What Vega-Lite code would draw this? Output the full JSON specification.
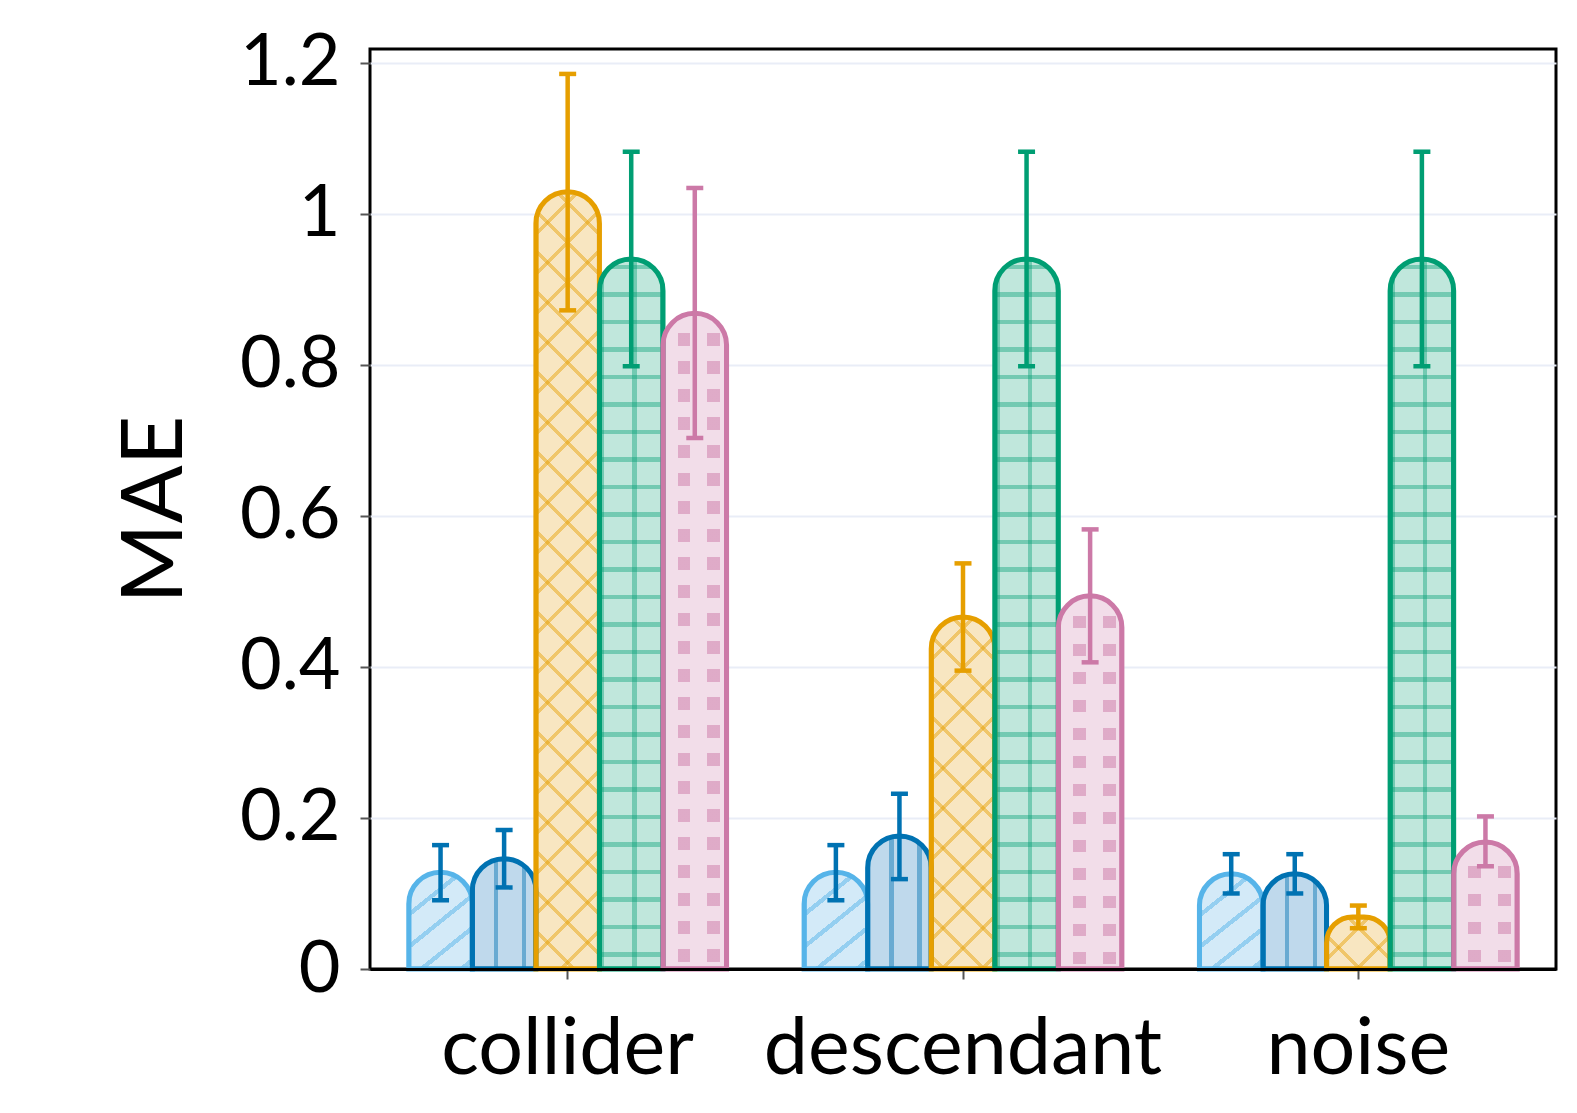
{
  "$schema": "https://vega.github.io/schema/vega-lite/v6.json",
  "autosize": {"type": "none"},
  "padding": {"left": 370, "top": 49, "right": 21, "bottom": 144},
  "width": 1186,
  "height": 920,
  "background": "white",
  "config": {
    "view": {"stroke": "#000000", "strokeWidth": 3},
    "font": "Lato",
    "axis": {"labelFont": "Lato", "titleFont": "Lato", "labelColor": "#000000", "titleColor": "#000000"}
  },
  "data": {
    "values": [
      {"group": "collider", "method": "m1", "mean": 0.128, "lo": 0.091, "hi": 0.164},
      {"group": "collider", "method": "m2", "mean": 0.146, "lo": 0.108, "hi": 0.184},
      {"group": "collider", "method": "m3", "mean": 1.029, "lo": 0.872, "hi": 1.185},
      {"group": "collider", "method": "m4", "mean": 0.940, "lo": 0.798, "hi": 1.082},
      {"group": "collider", "method": "m5", "mean": 0.868, "lo": 0.703, "hi": 1.034},
      {"group": "descendant", "method": "m1", "mean": 0.128, "lo": 0.091, "hi": 0.164},
      {"group": "descendant", "method": "m2", "mean": 0.176, "lo": 0.119, "hi": 0.232},
      {"group": "descendant", "method": "m3", "mean": 0.466, "lo": 0.395, "hi": 0.537},
      {"group": "descendant", "method": "m4", "mean": 0.940, "lo": 0.798, "hi": 1.082},
      {"group": "descendant", "method": "m5", "mean": 0.494, "lo": 0.406, "hi": 0.582},
      {"group": "noise", "method": "m1", "mean": 0.126, "lo": 0.100, "hi": 0.152},
      {"group": "noise", "method": "m2", "mean": 0.126, "lo": 0.100, "hi": 0.152},
      {"group": "noise", "method": "m3", "mean": 0.069, "lo": 0.054, "hi": 0.084},
      {"group": "noise", "method": "m4", "mean": 0.940, "lo": 0.798, "hi": 1.082},
      {"group": "noise", "method": "m5", "mean": 0.168, "lo": 0.136, "hi": 0.202}
    ]
  },
  "encoding": {
    "x": {
      "field": "group", "type": "nominal", "sort": ["collider", "descendant", "noise"],
      "scale": {"domain": ["collider", "descendant", "noise"], "paddingInner": 0, "paddingOuter": 0},
      "axis": {
        "title": null, "labelAngle": 0, "labelFontSize": 79, "labelPadding": 32, "labelLimit": 0,
        "domain": true, "domainColor": "#000000", "domainWidth": 3, "zindex": 1,
        "ticks": true, "tickSize": 10, "tickColor": "#555555", "tickWidth": 2, "grid": false
      }
    },
    "xOffset": {
      "field": "method", "type": "nominal", "sort": ["m1", "m2", "m3", "m4", "m5"],
      "scale": {"domain": ["m1", "m2", "m3", "m4", "m5"], "paddingInner": 0, "paddingOuter": 0.61}
    },
    "y": {
      "field": "mean", "type": "quantitative",
      "scale": {"domain": [0, 1.218], "nice": false, "zero": true},
      "axis": {
        "title": "MAE", "titleFontSize": 86, "titleFontWeight": "normal", "titlePadding": 40,
        "values": [0, 0.2, 0.4, 0.6, 0.8, 1, 1.2], "format": "~g",
        "labelFontSize": 72, "labelPadding": 20,
        "domain": false, "tickSize": 10, "tickColor": "#555555", "tickWidth": 2,
        "grid": true, "gridWidth": 2,
        "gridColor": {"condition": {"test": "datum.value === 0", "value": "rgba(0,0,0,0)"}, "value": "#e9edf7"}
      }
    }
  },
  "layer": [
    {
      "mark": {"type": "bar", "strokeWidth": 0, "cornerRadiusTopLeft": 31.7, "cornerRadiusTopRight": 31.7},
      "encoding": {
        "fill": {
          "field": "method", "type": "nominal", "legend": null,
          "scale": {"domain": ["m1", "m2", "m3", "m4", "m5"], "range": ["#d3eaf8", "#bfd9ec", "#f8e6c1", "#c0e7dc", "#f2dde9"]}
        }
      }
    },
    {
      "transform": [{"filter": "datum.method === 'm1'"}],
      "mark": {"type": "bar", "strokeWidth": 0, "cornerRadiusTopLeft": 31.7, "cornerRadiusTopRight": 31.7,
        "fill": {"gradient": "linear", "x1": 0, "y1": 0, "x2": 0.6327, "y2": 1.1945, "stops": [
          {"offset": 0.0494, "color": "rgba(0,0,0,0)"}, {"offset": 0.0494, "color": "rgba(86,180,233,0.5)"}, {"offset": 0.0868, "color": "rgba(86,180,233,0.5)"}, {"offset": 0.0868, "color": "rgba(0,0,0,0)"},
          {"offset": 0.2673, "color": "rgba(0,0,0,0)"}, {"offset": 0.2673, "color": "rgba(86,180,233,0.5)"}, {"offset": 0.3047, "color": "rgba(86,180,233,0.5)"}, {"offset": 0.3047, "color": "rgba(0,0,0,0)"},
          {"offset": 0.4852, "color": "rgba(0,0,0,0)"}, {"offset": 0.4852, "color": "rgba(86,180,233,0.5)"}, {"offset": 0.5226, "color": "rgba(86,180,233,0.5)"}, {"offset": 0.5226, "color": "rgba(0,0,0,0)"},
          {"offset": 0.7031, "color": "rgba(0,0,0,0)"}, {"offset": 0.7031, "color": "rgba(86,180,233,0.5)"}, {"offset": 0.7406, "color": "rgba(86,180,233,0.5)"}, {"offset": 0.7406, "color": "rgba(0,0,0,0)"},
          {"offset": 0.9210, "color": "rgba(0,0,0,0)"}, {"offset": 0.9210, "color": "rgba(86,180,233,0.5)"}, {"offset": 0.9585, "color": "rgba(86,180,233,0.5)"}, {"offset": 0.9585, "color": "rgba(0,0,0,0)"}
        ]}}
    },
    {
      "transform": [{"filter": "datum.method === 'm2'"}],
      "mark": {"type": "bar", "strokeWidth": 0, "cornerRadiusTopLeft": 31.7, "cornerRadiusTopRight": 31.7,
        "fill": {"gradient": "linear", "x1": 0, "y1": 0, "x2": 1, "y2": 0, "stops": [
          {"offset": 0.34, "color": "rgba(0,0,0,0)"}, {"offset": 0.34, "color": "rgba(0,114,178,0.45)"}, {"offset": 0.41, "color": "rgba(0,114,178,0.45)"}, {"offset": 0.41, "color": "rgba(0,0,0,0)"},
          {"offset": 0.78, "color": "rgba(0,0,0,0)"}, {"offset": 0.78, "color": "rgba(0,114,178,0.45)"}, {"offset": 0.85, "color": "rgba(0,114,178,0.45)"}, {"offset": 0.85, "color": "rgba(0,0,0,0)"}
        ]}}
    },
    {
      "transform": [{"filter": "datum.method === 'm3' && datum.group === 'collider'"}],
      "mark": {"type": "bar", "strokeWidth": 0, "cornerRadiusTopLeft": 31.7, "cornerRadiusTopRight": 31.7,
        "fill": {"gradient": "linear", "x1": 0, "y1": 0, "x2": 0.0879, "y2": 1.0746, "stops": [
          {"offset": 0, "color": "rgba(230,159,0,0.45)"}, {"offset": 0.0059, "color": "rgba(230,159,0,0.45)"}, {"offset": 0.0059, "color": "rgba(0,0,0,0)"},
          {"offset": 0.0476, "color": "rgba(0,0,0,0)"}, {"offset": 0.0476, "color": "rgba(230,159,0,0.45)"}, {"offset": 0.0535, "color": "rgba(230,159,0,0.45)"}, {"offset": 0.0535, "color": "rgba(0,0,0,0)"},
          {"offset": 0.0952, "color": "rgba(0,0,0,0)"}, {"offset": 0.0952, "color": "rgba(230,159,0,0.45)"}, {"offset": 0.1011, "color": "rgba(230,159,0,0.45)"}, {"offset": 0.1011, "color": "rgba(0,0,0,0)"},
          {"offset": 0.1427, "color": "rgba(0,0,0,0)"}, {"offset": 0.1427, "color": "rgba(230,159,0,0.45)"}, {"offset": 0.1487, "color": "rgba(230,159,0,0.45)"}, {"offset": 0.1487, "color": "rgba(0,0,0,0)"},
          {"offset": 0.1903, "color": "rgba(0,0,0,0)"}, {"offset": 0.1903, "color": "rgba(230,159,0,0.45)"}, {"offset": 0.1963, "color": "rgba(230,159,0,0.45)"}, {"offset": 0.1963, "color": "rgba(0,0,0,0)"},
          {"offset": 0.2379, "color": "rgba(0,0,0,0)"}, {"offset": 0.2379, "color": "rgba(230,159,0,0.45)"}, {"offset": 0.2438, "color": "rgba(230,159,0,0.45)"}, {"offset": 0.2438, "color": "rgba(0,0,0,0)"},
          {"offset": 0.2855, "color": "rgba(0,0,0,0)"}, {"offset": 0.2855, "color": "rgba(230,159,0,0.45)"}, {"offset": 0.2914, "color": "rgba(230,159,0,0.45)"}, {"offset": 0.2914, "color": "rgba(0,0,0,0)"},
          {"offset": 0.3330, "color": "rgba(0,0,0,0)"}, {"offset": 0.3330, "color": "rgba(230,159,0,0.45)"}, {"offset": 0.3390, "color": "rgba(230,159,0,0.45)"}, {"offset": 0.3390, "color": "rgba(0,0,0,0)"},
          {"offset": 0.3806, "color": "rgba(0,0,0,0)"}, {"offset": 0.3806, "color": "rgba(230,159,0,0.45)"}, {"offset": 0.3866, "color": "rgba(230,159,0,0.45)"}, {"offset": 0.3866, "color": "rgba(0,0,0,0)"},
          {"offset": 0.4282, "color": "rgba(0,0,0,0)"}, {"offset": 0.4282, "color": "rgba(230,159,0,0.45)"}, {"offset": 0.4341, "color": "rgba(230,159,0,0.45)"}, {"offset": 0.4341, "color": "rgba(0,0,0,0)"},
          {"offset": 0.4758, "color": "rgba(0,0,0,0)"}, {"offset": 0.4758, "color": "rgba(230,159,0,0.45)"}, {"offset": 0.4817, "color": "rgba(230,159,0,0.45)"}, {"offset": 0.4817, "color": "rgba(0,0,0,0)"},
          {"offset": 0.5233, "color": "rgba(0,0,0,0)"}, {"offset": 0.5233, "color": "rgba(230,159,0,0.45)"}, {"offset": 0.5293, "color": "rgba(230,159,0,0.45)"}, {"offset": 0.5293, "color": "rgba(0,0,0,0)"},
          {"offset": 0.5709, "color": "rgba(0,0,0,0)"}, {"offset": 0.5709, "color": "rgba(230,159,0,0.45)"}, {"offset": 0.5769, "color": "rgba(230,159,0,0.45)"}, {"offset": 0.5769, "color": "rgba(0,0,0,0)"},
          {"offset": 0.6185, "color": "rgba(0,0,0,0)"}, {"offset": 0.6185, "color": "rgba(230,159,0,0.45)"}, {"offset": 0.6244, "color": "rgba(230,159,0,0.45)"}, {"offset": 0.6244, "color": "rgba(0,0,0,0)"},
          {"offset": 0.6661, "color": "rgba(0,0,0,0)"}, {"offset": 0.6661, "color": "rgba(230,159,0,0.45)"}, {"offset": 0.6720, "color": "rgba(230,159,0,0.45)"}, {"offset": 0.6720, "color": "rgba(0,0,0,0)"},
          {"offset": 0.7136, "color": "rgba(0,0,0,0)"}, {"offset": 0.7136, "color": "rgba(230,159,0,0.45)"}, {"offset": 0.7196, "color": "rgba(230,159,0,0.45)"}, {"offset": 0.7196, "color": "rgba(0,0,0,0)"},
          {"offset": 0.7612, "color": "rgba(0,0,0,0)"}, {"offset": 0.7612, "color": "rgba(230,159,0,0.45)"}, {"offset": 0.7672, "color": "rgba(230,159,0,0.45)"}, {"offset": 0.7672, "color": "rgba(0,0,0,0)"},
          {"offset": 0.8088, "color": "rgba(0,0,0,0)"}, {"offset": 0.8088, "color": "rgba(230,159,0,0.45)"}, {"offset": 0.8147, "color": "rgba(230,159,0,0.45)"}, {"offset": 0.8147, "color": "rgba(0,0,0,0)"},
          {"offset": 0.8564, "color": "rgba(0,0,0,0)"}, {"offset": 0.8564, "color": "rgba(230,159,0,0.45)"}, {"offset": 0.8623, "color": "rgba(230,159,0,0.45)"}, {"offset": 0.8623, "color": "rgba(0,0,0,0)"},
          {"offset": 0.9039, "color": "rgba(0,0,0,0)"}, {"offset": 0.9039, "color": "rgba(230,159,0,0.45)"}, {"offset": 0.9099, "color": "rgba(230,159,0,0.45)"}, {"offset": 0.9099, "color": "rgba(0,0,0,0)"},
          {"offset": 0.9515, "color": "rgba(0,0,0,0)"}, {"offset": 0.9515, "color": "rgba(230,159,0,0.45)"}, {"offset": 0.9575, "color": "rgba(230,159,0,0.45)"}, {"offset": 0.9575, "color": "rgba(0,0,0,0)"}
        ]}}
    },
    {
      "transform": [{"filter": "datum.method === 'm3' && datum.group === 'collider'"}],
      "mark": {"type": "bar", "strokeWidth": 0, "cornerRadiusTopLeft": 31.7, "cornerRadiusTopRight": 31.7,
        "fill": {"gradient": "linear", "x1": 1, "y1": 0, "x2": 0.9121, "y2": 1.0746, "stops": [
          {"offset": 0, "color": "rgba(230,159,0,0.45)"}, {"offset": 0.0059, "color": "rgba(230,159,0,0.45)"}, {"offset": 0.0059, "color": "rgba(0,0,0,0)"},
          {"offset": 0.0476, "color": "rgba(0,0,0,0)"}, {"offset": 0.0476, "color": "rgba(230,159,0,0.45)"}, {"offset": 0.0535, "color": "rgba(230,159,0,0.45)"}, {"offset": 0.0535, "color": "rgba(0,0,0,0)"},
          {"offset": 0.0952, "color": "rgba(0,0,0,0)"}, {"offset": 0.0952, "color": "rgba(230,159,0,0.45)"}, {"offset": 0.1011, "color": "rgba(230,159,0,0.45)"}, {"offset": 0.1011, "color": "rgba(0,0,0,0)"},
          {"offset": 0.1427, "color": "rgba(0,0,0,0)"}, {"offset": 0.1427, "color": "rgba(230,159,0,0.45)"}, {"offset": 0.1487, "color": "rgba(230,159,0,0.45)"}, {"offset": 0.1487, "color": "rgba(0,0,0,0)"},
          {"offset": 0.1903, "color": "rgba(0,0,0,0)"}, {"offset": 0.1903, "color": "rgba(230,159,0,0.45)"}, {"offset": 0.1963, "color": "rgba(230,159,0,0.45)"}, {"offset": 0.1963, "color": "rgba(0,0,0,0)"},
          {"offset": 0.2379, "color": "rgba(0,0,0,0)"}, {"offset": 0.2379, "color": "rgba(230,159,0,0.45)"}, {"offset": 0.2438, "color": "rgba(230,159,0,0.45)"}, {"offset": 0.2438, "color": "rgba(0,0,0,0)"},
          {"offset": 0.2855, "color": "rgba(0,0,0,0)"}, {"offset": 0.2855, "color": "rgba(230,159,0,0.45)"}, {"offset": 0.2914, "color": "rgba(230,159,0,0.45)"}, {"offset": 0.2914, "color": "rgba(0,0,0,0)"},
          {"offset": 0.3330, "color": "rgba(0,0,0,0)"}, {"offset": 0.3330, "color": "rgba(230,159,0,0.45)"}, {"offset": 0.3390, "color": "rgba(230,159,0,0.45)"}, {"offset": 0.3390, "color": "rgba(0,0,0,0)"},
          {"offset": 0.3806, "color": "rgba(0,0,0,0)"}, {"offset": 0.3806, "color": "rgba(230,159,0,0.45)"}, {"offset": 0.3866, "color": "rgba(230,159,0,0.45)"}, {"offset": 0.3866, "color": "rgba(0,0,0,0)"},
          {"offset": 0.4282, "color": "rgba(0,0,0,0)"}, {"offset": 0.4282, "color": "rgba(230,159,0,0.45)"}, {"offset": 0.4341, "color": "rgba(230,159,0,0.45)"}, {"offset": 0.4341, "color": "rgba(0,0,0,0)"},
          {"offset": 0.4758, "color": "rgba(0,0,0,0)"}, {"offset": 0.4758, "color": "rgba(230,159,0,0.45)"}, {"offset": 0.4817, "color": "rgba(230,159,0,0.45)"}, {"offset": 0.4817, "color": "rgba(0,0,0,0)"},
          {"offset": 0.5233, "color": "rgba(0,0,0,0)"}, {"offset": 0.5233, "color": "rgba(230,159,0,0.45)"}, {"offset": 0.5293, "color": "rgba(230,159,0,0.45)"}, {"offset": 0.5293, "color": "rgba(0,0,0,0)"},
          {"offset": 0.5709, "color": "rgba(0,0,0,0)"}, {"offset": 0.5709, "color": "rgba(230,159,0,0.45)"}, {"offset": 0.5769, "color": "rgba(230,159,0,0.45)"}, {"offset": 0.5769, "color": "rgba(0,0,0,0)"},
          {"offset": 0.6185, "color": "rgba(0,0,0,0)"}, {"offset": 0.6185, "color": "rgba(230,159,0,0.45)"}, {"offset": 0.6244, "color": "rgba(230,159,0,0.45)"}, {"offset": 0.6244, "color": "rgba(0,0,0,0)"},
          {"offset": 0.6661, "color": "rgba(0,0,0,0)"}, {"offset": 0.6661, "color": "rgba(230,159,0,0.45)"}, {"offset": 0.6720, "color": "rgba(230,159,0,0.45)"}, {"offset": 0.6720, "color": "rgba(0,0,0,0)"},
          {"offset": 0.7136, "color": "rgba(0,0,0,0)"}, {"offset": 0.7136, "color": "rgba(230,159,0,0.45)"}, {"offset": 0.7196, "color": "rgba(230,159,0,0.45)"}, {"offset": 0.7196, "color": "rgba(0,0,0,0)"},
          {"offset": 0.7612, "color": "rgba(0,0,0,0)"}, {"offset": 0.7612, "color": "rgba(230,159,0,0.45)"}, {"offset": 0.7672, "color": "rgba(230,159,0,0.45)"}, {"offset": 0.7672, "color": "rgba(0,0,0,0)"},
          {"offset": 0.8088, "color": "rgba(0,0,0,0)"}, {"offset": 0.8088, "color": "rgba(230,159,0,0.45)"}, {"offset": 0.8147, "color": "rgba(230,159,0,0.45)"}, {"offset": 0.8147, "color": "rgba(0,0,0,0)"},
          {"offset": 0.8564, "color": "rgba(0,0,0,0)"}, {"offset": 0.8564, "color": "rgba(230,159,0,0.45)"}, {"offset": 0.8623, "color": "rgba(230,159,0,0.45)"}, {"offset": 0.8623, "color": "rgba(0,0,0,0)"},
          {"offset": 0.9039, "color": "rgba(0,0,0,0)"}, {"offset": 0.9039, "color": "rgba(230,159,0,0.45)"}, {"offset": 0.9099, "color": "rgba(230,159,0,0.45)"}, {"offset": 0.9099, "color": "rgba(0,0,0,0)"},
          {"offset": 0.9515, "color": "rgba(0,0,0,0)"}, {"offset": 0.9515, "color": "rgba(230,159,0,0.45)"}, {"offset": 0.9575, "color": "rgba(230,159,0,0.45)"}, {"offset": 0.9575, "color": "rgba(0,0,0,0)"}
        ]}}
    },
    {
      "transform": [{"filter": "datum.method === 'm3' && datum.group === 'descendant'"}],
      "mark": {"type": "bar", "strokeWidth": 0, "cornerRadiusTopLeft": 31.7, "cornerRadiusTopRight": 31.7,
        "fill": {"gradient": "linear", "x1": 0, "y1": 0, "x2": 0.2064, "y2": 1.1433, "stops": [
          {"offset": 0, "color": "rgba(230,159,0,0.45)"}, {"offset": 0.0120, "color": "rgba(230,159,0,0.45)"}, {"offset": 0.0120, "color": "rgba(0,0,0,0)"},
          {"offset": 0.0963, "color": "rgba(0,0,0,0)"}, {"offset": 0.0963, "color": "rgba(230,159,0,0.45)"}, {"offset": 0.1083, "color": "rgba(230,159,0,0.45)"}, {"offset": 0.1083, "color": "rgba(0,0,0,0)"},
          {"offset": 0.1925, "color": "rgba(0,0,0,0)"}, {"offset": 0.1925, "color": "rgba(230,159,0,0.45)"}, {"offset": 0.2045, "color": "rgba(230,159,0,0.45)"}, {"offset": 0.2045, "color": "rgba(0,0,0,0)"},
          {"offset": 0.2888, "color": "rgba(0,0,0,0)"}, {"offset": 0.2888, "color": "rgba(230,159,0,0.45)"}, {"offset": 0.3008, "color": "rgba(230,159,0,0.45)"}, {"offset": 0.3008, "color": "rgba(0,0,0,0)"},
          {"offset": 0.3850, "color": "rgba(0,0,0,0)"}, {"offset": 0.3850, "color": "rgba(230,159,0,0.45)"}, {"offset": 0.3971, "color": "rgba(230,159,0,0.45)"}, {"offset": 0.3971, "color": "rgba(0,0,0,0)"},
          {"offset": 0.4813, "color": "rgba(0,0,0,0)"}, {"offset": 0.4813, "color": "rgba(230,159,0,0.45)"}, {"offset": 0.4933, "color": "rgba(230,159,0,0.45)"}, {"offset": 0.4933, "color": "rgba(0,0,0,0)"},
          {"offset": 0.5775, "color": "rgba(0,0,0,0)"}, {"offset": 0.5775, "color": "rgba(230,159,0,0.45)"}, {"offset": 0.5896, "color": "rgba(230,159,0,0.45)"}, {"offset": 0.5896, "color": "rgba(0,0,0,0)"},
          {"offset": 0.6738, "color": "rgba(0,0,0,0)"}, {"offset": 0.6738, "color": "rgba(230,159,0,0.45)"}, {"offset": 0.6858, "color": "rgba(230,159,0,0.45)"}, {"offset": 0.6858, "color": "rgba(0,0,0,0)"},
          {"offset": 0.7700, "color": "rgba(0,0,0,0)"}, {"offset": 0.7700, "color": "rgba(230,159,0,0.45)"}, {"offset": 0.7821, "color": "rgba(230,159,0,0.45)"}, {"offset": 0.7821, "color": "rgba(0,0,0,0)"},
          {"offset": 0.8663, "color": "rgba(0,0,0,0)"}, {"offset": 0.8663, "color": "rgba(230,159,0,0.45)"}, {"offset": 0.8783, "color": "rgba(230,159,0,0.45)"}, {"offset": 0.8783, "color": "rgba(0,0,0,0)"},
          {"offset": 0.9626, "color": "rgba(0,0,0,0)"}, {"offset": 0.9626, "color": "rgba(230,159,0,0.45)"}, {"offset": 0.9746, "color": "rgba(230,159,0,0.45)"}, {"offset": 0.9746, "color": "rgba(0,0,0,0)"}
        ]}}
    },
    {
      "transform": [{"filter": "datum.method === 'm3' && datum.group === 'descendant'"}],
      "mark": {"type": "bar", "strokeWidth": 0, "cornerRadiusTopLeft": 31.7, "cornerRadiusTopRight": 31.7,
        "fill": {"gradient": "linear", "x1": 1, "y1": 0, "x2": 0.7936, "y2": 1.1433, "stops": [
          {"offset": 0, "color": "rgba(230,159,0,0.45)"}, {"offset": 0.0120, "color": "rgba(230,159,0,0.45)"}, {"offset": 0.0120, "color": "rgba(0,0,0,0)"},
          {"offset": 0.0963, "color": "rgba(0,0,0,0)"}, {"offset": 0.0963, "color": "rgba(230,159,0,0.45)"}, {"offset": 0.1083, "color": "rgba(230,159,0,0.45)"}, {"offset": 0.1083, "color": "rgba(0,0,0,0)"},
          {"offset": 0.1925, "color": "rgba(0,0,0,0)"}, {"offset": 0.1925, "color": "rgba(230,159,0,0.45)"}, {"offset": 0.2045, "color": "rgba(230,159,0,0.45)"}, {"offset": 0.2045, "color": "rgba(0,0,0,0)"},
          {"offset": 0.2888, "color": "rgba(0,0,0,0)"}, {"offset": 0.2888, "color": "rgba(230,159,0,0.45)"}, {"offset": 0.3008, "color": "rgba(230,159,0,0.45)"}, {"offset": 0.3008, "color": "rgba(0,0,0,0)"},
          {"offset": 0.3850, "color": "rgba(0,0,0,0)"}, {"offset": 0.3850, "color": "rgba(230,159,0,0.45)"}, {"offset": 0.3971, "color": "rgba(230,159,0,0.45)"}, {"offset": 0.3971, "color": "rgba(0,0,0,0)"},
          {"offset": 0.4813, "color": "rgba(0,0,0,0)"}, {"offset": 0.4813, "color": "rgba(230,159,0,0.45)"}, {"offset": 0.4933, "color": "rgba(230,159,0,0.45)"}, {"offset": 0.4933, "color": "rgba(0,0,0,0)"},
          {"offset": 0.5775, "color": "rgba(0,0,0,0)"}, {"offset": 0.5775, "color": "rgba(230,159,0,0.45)"}, {"offset": 0.5896, "color": "rgba(230,159,0,0.45)"}, {"offset": 0.5896, "color": "rgba(0,0,0,0)"},
          {"offset": 0.6738, "color": "rgba(0,0,0,0)"}, {"offset": 0.6738, "color": "rgba(230,159,0,0.45)"}, {"offset": 0.6858, "color": "rgba(230,159,0,0.45)"}, {"offset": 0.6858, "color": "rgba(0,0,0,0)"},
          {"offset": 0.7700, "color": "rgba(0,0,0,0)"}, {"offset": 0.7700, "color": "rgba(230,159,0,0.45)"}, {"offset": 0.7821, "color": "rgba(230,159,0,0.45)"}, {"offset": 0.7821, "color": "rgba(0,0,0,0)"},
          {"offset": 0.8663, "color": "rgba(0,0,0,0)"}, {"offset": 0.8663, "color": "rgba(230,159,0,0.45)"}, {"offset": 0.8783, "color": "rgba(230,159,0,0.45)"}, {"offset": 0.8783, "color": "rgba(0,0,0,0)"},
          {"offset": 0.9626, "color": "rgba(0,0,0,0)"}, {"offset": 0.9626, "color": "rgba(230,159,0,0.45)"}, {"offset": 0.9746, "color": "rgba(230,159,0,0.45)"}, {"offset": 0.9746, "color": "rgba(0,0,0,0)"}
        ]}}
    },
    {
      "transform": [{"filter": "datum.method === 'm3' && datum.group === 'noise'"}],
      "mark": {"type": "bar", "strokeWidth": 0, "cornerRadiusTopLeft": 31.7, "cornerRadiusTopRight": 31.7,
        "fill": {"gradient": "linear", "x1": 0, "y1": 0, "x2": 1.0882, "y2": 0.8924, "stops": [
          {"offset": 0, "color": "rgba(230,159,0,0.45)"}, {"offset": 0.0432, "color": "rgba(230,159,0,0.45)"}, {"offset": 0.0432, "color": "rgba(0,0,0,0)"},
          {"offset": 0.3458, "color": "rgba(0,0,0,0)"}, {"offset": 0.3458, "color": "rgba(230,159,0,0.45)"}, {"offset": 0.3890, "color": "rgba(230,159,0,0.45)"}, {"offset": 0.3890, "color": "rgba(0,0,0,0)"},
          {"offset": 0.6916, "color": "rgba(0,0,0,0)"}, {"offset": 0.6916, "color": "rgba(230,159,0,0.45)"}, {"offset": 0.7348, "color": "rgba(230,159,0,0.45)"}, {"offset": 0.7348, "color": "rgba(0,0,0,0)"}
        ]}}
    },
    {
      "transform": [{"filter": "datum.method === 'm3' && datum.group === 'noise'"}],
      "mark": {"type": "bar", "strokeWidth": 0, "cornerRadiusTopLeft": 31.7, "cornerRadiusTopRight": 31.7,
        "fill": {"gradient": "linear", "x1": 1, "y1": 0, "x2": -0.0882, "y2": 0.8924, "stops": [
          {"offset": 0, "color": "rgba(230,159,0,0.45)"}, {"offset": 0.0432, "color": "rgba(230,159,0,0.45)"}, {"offset": 0.0432, "color": "rgba(0,0,0,0)"},
          {"offset": 0.3458, "color": "rgba(0,0,0,0)"}, {"offset": 0.3458, "color": "rgba(230,159,0,0.45)"}, {"offset": 0.3890, "color": "rgba(230,159,0,0.45)"}, {"offset": 0.3890, "color": "rgba(0,0,0,0)"},
          {"offset": 0.6916, "color": "rgba(0,0,0,0)"}, {"offset": 0.6916, "color": "rgba(230,159,0,0.45)"}, {"offset": 0.7348, "color": "rgba(230,159,0,0.45)"}, {"offset": 0.7348, "color": "rgba(0,0,0,0)"}
        ]}}
    },
    {
      "transform": [{"filter": "datum.method === 'm4'"}],
      "mark": {"type": "bar", "strokeWidth": 0, "cornerRadiusTopLeft": 31.7, "cornerRadiusTopRight": 31.7,
        "fill": {"gradient": "linear", "x1": 0, "y1": 0, "x2": 1, "y2": 0, "stops": [
          {"offset": 0.005, "color": "rgba(0,0,0,0)"}, {"offset": 0.005, "color": "rgba(0,158,115,0.4)"}, {"offset": 0.075, "color": "rgba(0,158,115,0.4)"}, {"offset": 0.075, "color": "rgba(0,0,0,0)"},
          {"offset": 0.515, "color": "rgba(0,0,0,0)"}, {"offset": 0.515, "color": "rgba(0,158,115,0.4)"}, {"offset": 0.585, "color": "rgba(0,158,115,0.4)"}, {"offset": 0.585, "color": "rgba(0,0,0,0)"}
        ]}}
    },
    {
      "transform": [{"filter": "datum.method === 'm4'"}],
      "mark": {"type": "bar", "strokeWidth": 0, "cornerRadiusTopLeft": 31.7, "cornerRadiusTopRight": 31.7,
        "fill": {"gradient": "linear", "x1": 0, "y1": 0, "x2": 0, "y2": 1, "stops": [
          {"offset": 0.0078, "color": "rgba(0,0,0,0)"}, {"offset": 0.0078, "color": "rgba(0,158,115,0.4)"}, {"offset": 0.0142, "color": "rgba(0,158,115,0.4)"}, {"offset": 0.0142, "color": "rgba(0,0,0,0)"},
          {"offset": 0.0465, "color": "rgba(0,0,0,0)"}, {"offset": 0.0465, "color": "rgba(0,158,115,0.4)"}, {"offset": 0.0529, "color": "rgba(0,158,115,0.4)"}, {"offset": 0.0529, "color": "rgba(0,0,0,0)"},
          {"offset": 0.0853, "color": "rgba(0,0,0,0)"}, {"offset": 0.0853, "color": "rgba(0,158,115,0.4)"}, {"offset": 0.0916, "color": "rgba(0,158,115,0.4)"}, {"offset": 0.0916, "color": "rgba(0,0,0,0)"},
          {"offset": 0.1240, "color": "rgba(0,0,0,0)"}, {"offset": 0.1240, "color": "rgba(0,158,115,0.4)"}, {"offset": 0.1304, "color": "rgba(0,158,115,0.4)"}, {"offset": 0.1304, "color": "rgba(0,0,0,0)"},
          {"offset": 0.1627, "color": "rgba(0,0,0,0)"}, {"offset": 0.1627, "color": "rgba(0,158,115,0.4)"}, {"offset": 0.1691, "color": "rgba(0,158,115,0.4)"}, {"offset": 0.1691, "color": "rgba(0,0,0,0)"},
          {"offset": 0.2015, "color": "rgba(0,0,0,0)"}, {"offset": 0.2015, "color": "rgba(0,158,115,0.4)"}, {"offset": 0.2078, "color": "rgba(0,158,115,0.4)"}, {"offset": 0.2078, "color": "rgba(0,0,0,0)"},
          {"offset": 0.2402, "color": "rgba(0,0,0,0)"}, {"offset": 0.2402, "color": "rgba(0,158,115,0.4)"}, {"offset": 0.2465, "color": "rgba(0,158,115,0.4)"}, {"offset": 0.2465, "color": "rgba(0,0,0,0)"},
          {"offset": 0.2789, "color": "rgba(0,0,0,0)"}, {"offset": 0.2789, "color": "rgba(0,158,115,0.4)"}, {"offset": 0.2853, "color": "rgba(0,158,115,0.4)"}, {"offset": 0.2853, "color": "rgba(0,0,0,0)"},
          {"offset": 0.3177, "color": "rgba(0,0,0,0)"}, {"offset": 0.3177, "color": "rgba(0,158,115,0.4)"}, {"offset": 0.3240, "color": "rgba(0,158,115,0.4)"}, {"offset": 0.3240, "color": "rgba(0,0,0,0)"},
          {"offset": 0.3564, "color": "rgba(0,0,0,0)"}, {"offset": 0.3564, "color": "rgba(0,158,115,0.4)"}, {"offset": 0.3627, "color": "rgba(0,158,115,0.4)"}, {"offset": 0.3627, "color": "rgba(0,0,0,0)"},
          {"offset": 0.3951, "color": "rgba(0,0,0,0)"}, {"offset": 0.3951, "color": "rgba(0,158,115,0.4)"}, {"offset": 0.4015, "color": "rgba(0,158,115,0.4)"}, {"offset": 0.4015, "color": "rgba(0,0,0,0)"},
          {"offset": 0.4339, "color": "rgba(0,0,0,0)"}, {"offset": 0.4339, "color": "rgba(0,158,115,0.4)"}, {"offset": 0.4402, "color": "rgba(0,158,115,0.4)"}, {"offset": 0.4402, "color": "rgba(0,0,0,0)"},
          {"offset": 0.4726, "color": "rgba(0,0,0,0)"}, {"offset": 0.4726, "color": "rgba(0,158,115,0.4)"}, {"offset": 0.4789, "color": "rgba(0,158,115,0.4)"}, {"offset": 0.4789, "color": "rgba(0,0,0,0)"},
          {"offset": 0.5113, "color": "rgba(0,0,0,0)"}, {"offset": 0.5113, "color": "rgba(0,158,115,0.4)"}, {"offset": 0.5177, "color": "rgba(0,158,115,0.4)"}, {"offset": 0.5177, "color": "rgba(0,0,0,0)"},
          {"offset": 0.5501, "color": "rgba(0,0,0,0)"}, {"offset": 0.5501, "color": "rgba(0,158,115,0.4)"}, {"offset": 0.5564, "color": "rgba(0,158,115,0.4)"}, {"offset": 0.5564, "color": "rgba(0,0,0,0)"},
          {"offset": 0.5888, "color": "rgba(0,0,0,0)"}, {"offset": 0.5888, "color": "rgba(0,158,115,0.4)"}, {"offset": 0.5951, "color": "rgba(0,158,115,0.4)"}, {"offset": 0.5951, "color": "rgba(0,0,0,0)"},
          {"offset": 0.6275, "color": "rgba(0,0,0,0)"}, {"offset": 0.6275, "color": "rgba(0,158,115,0.4)"}, {"offset": 0.6339, "color": "rgba(0,158,115,0.4)"}, {"offset": 0.6339, "color": "rgba(0,0,0,0)"},
          {"offset": 0.6663, "color": "rgba(0,0,0,0)"}, {"offset": 0.6663, "color": "rgba(0,158,115,0.4)"}, {"offset": 0.6726, "color": "rgba(0,158,115,0.4)"}, {"offset": 0.6726, "color": "rgba(0,0,0,0)"},
          {"offset": 0.7050, "color": "rgba(0,0,0,0)"}, {"offset": 0.7050, "color": "rgba(0,158,115,0.4)"}, {"offset": 0.7113, "color": "rgba(0,158,115,0.4)"}, {"offset": 0.7113, "color": "rgba(0,0,0,0)"},
          {"offset": 0.7437, "color": "rgba(0,0,0,0)"}, {"offset": 0.7437, "color": "rgba(0,158,115,0.4)"}, {"offset": 0.7501, "color": "rgba(0,158,115,0.4)"}, {"offset": 0.7501, "color": "rgba(0,0,0,0)"},
          {"offset": 0.7825, "color": "rgba(0,0,0,0)"}, {"offset": 0.7825, "color": "rgba(0,158,115,0.4)"}, {"offset": 0.7888, "color": "rgba(0,158,115,0.4)"}, {"offset": 0.7888, "color": "rgba(0,0,0,0)"},
          {"offset": 0.8212, "color": "rgba(0,0,0,0)"}, {"offset": 0.8212, "color": "rgba(0,158,115,0.4)"}, {"offset": 0.8275, "color": "rgba(0,158,115,0.4)"}, {"offset": 0.8275, "color": "rgba(0,0,0,0)"},
          {"offset": 0.8599, "color": "rgba(0,0,0,0)"}, {"offset": 0.8599, "color": "rgba(0,158,115,0.4)"}, {"offset": 0.8663, "color": "rgba(0,158,115,0.4)"}, {"offset": 0.8663, "color": "rgba(0,0,0,0)"},
          {"offset": 0.8987, "color": "rgba(0,0,0,0)"}, {"offset": 0.8987, "color": "rgba(0,158,115,0.4)"}, {"offset": 0.9050, "color": "rgba(0,158,115,0.4)"}, {"offset": 0.9050, "color": "rgba(0,0,0,0)"},
          {"offset": 0.9374, "color": "rgba(0,0,0,0)"}, {"offset": 0.9374, "color": "rgba(0,158,115,0.4)"}, {"offset": 0.9437, "color": "rgba(0,158,115,0.4)"}, {"offset": 0.9437, "color": "rgba(0,0,0,0)"},
          {"offset": 0.9761, "color": "rgba(0,0,0,0)"}, {"offset": 0.9761, "color": "rgba(0,158,115,0.4)"}, {"offset": 0.9825, "color": "rgba(0,158,115,0.4)"}, {"offset": 0.9825, "color": "rgba(0,0,0,0)"}
        ]}}
    },
    {
      "transform": [{"filter": "datum.method === 'm5'"}],
      "mark": {"type": "bar", "strokeWidth": 0, "cornerRadiusTopLeft": 31.7, "cornerRadiusTopRight": 31.7,
        "fill": {"gradient": "linear", "x1": 0, "y1": 0, "x2": 1, "y2": 0, "stops": [
          {"offset": 0.23, "color": "rgba(0,0,0,0)"}, {"offset": 0.23, "color": "rgba(204,121,167,0.5)"}, {"offset": 0.43, "color": "rgba(204,121,167,0.5)"}, {"offset": 0.43, "color": "rgba(0,0,0,0)"},
          {"offset": 0.70, "color": "rgba(0,0,0,0)"}, {"offset": 0.70, "color": "rgba(204,121,167,0.5)"}, {"offset": 0.90, "color": "rgba(204,121,167,0.5)"}, {"offset": 0.90, "color": "rgba(0,0,0,0)"}
        ]}}
    },
    {
      "transform": [{"filter": "datum.method === 'm5' && datum.group === 'collider'"}],
      "mark": {"type": "bar", "strokeWidth": 0, "cornerRadiusTopLeft": 31.7, "cornerRadiusTopRight": 31.7,
        "fill": {"gradient": "linear", "x1": 0, "y1": 0, "x2": 0, "y2": 1, "stops": [
          {"offset": 0, "color": "#f2dde9"},
          {"offset": 0.0301, "color": "#f2dde9"}, {"offset": 0.0301, "color": "rgba(242,221,233,0)"}, {"offset": 0.0492, "color": "rgba(242,221,233,0)"}, {"offset": 0.0492, "color": "#f2dde9"},
          {"offset": 0.0728, "color": "#f2dde9"}, {"offset": 0.0728, "color": "rgba(242,221,233,0)"}, {"offset": 0.0919, "color": "rgba(242,221,233,0)"}, {"offset": 0.0919, "color": "#f2dde9"},
          {"offset": 0.1155, "color": "#f2dde9"}, {"offset": 0.1155, "color": "rgba(242,221,233,0)"}, {"offset": 0.1346, "color": "rgba(242,221,233,0)"}, {"offset": 0.1346, "color": "#f2dde9"},
          {"offset": 0.1583, "color": "#f2dde9"}, {"offset": 0.1583, "color": "rgba(242,221,233,0)"}, {"offset": 0.1773, "color": "rgba(242,221,233,0)"}, {"offset": 0.1773, "color": "#f2dde9"},
          {"offset": 0.2010, "color": "#f2dde9"}, {"offset": 0.2010, "color": "rgba(242,221,233,0)"}, {"offset": 0.2200, "color": "rgba(242,221,233,0)"}, {"offset": 0.2200, "color": "#f2dde9"},
          {"offset": 0.2437, "color": "#f2dde9"}, {"offset": 0.2437, "color": "rgba(242,221,233,0)"}, {"offset": 0.2627, "color": "rgba(242,221,233,0)"}, {"offset": 0.2627, "color": "#f2dde9"},
          {"offset": 0.2864, "color": "#f2dde9"}, {"offset": 0.2864, "color": "rgba(242,221,233,0)"}, {"offset": 0.3054, "color": "rgba(242,221,233,0)"}, {"offset": 0.3054, "color": "#f2dde9"},
          {"offset": 0.3291, "color": "#f2dde9"}, {"offset": 0.3291, "color": "rgba(242,221,233,0)"}, {"offset": 0.3482, "color": "rgba(242,221,233,0)"}, {"offset": 0.3482, "color": "#f2dde9"},
          {"offset": 0.3718, "color": "#f2dde9"}, {"offset": 0.3718, "color": "rgba(242,221,233,0)"}, {"offset": 0.3909, "color": "rgba(242,221,233,0)"}, {"offset": 0.3909, "color": "#f2dde9"},
          {"offset": 0.4145, "color": "#f2dde9"}, {"offset": 0.4145, "color": "rgba(242,221,233,0)"}, {"offset": 0.4336, "color": "rgba(242,221,233,0)"}, {"offset": 0.4336, "color": "#f2dde9"},
          {"offset": 0.4572, "color": "#f2dde9"}, {"offset": 0.4572, "color": "rgba(242,221,233,0)"}, {"offset": 0.4763, "color": "rgba(242,221,233,0)"}, {"offset": 0.4763, "color": "#f2dde9"},
          {"offset": 0.4999, "color": "#f2dde9"}, {"offset": 0.4999, "color": "rgba(242,221,233,0)"}, {"offset": 0.5190, "color": "rgba(242,221,233,0)"}, {"offset": 0.5190, "color": "#f2dde9"},
          {"offset": 0.5426, "color": "#f2dde9"}, {"offset": 0.5426, "color": "rgba(242,221,233,0)"}, {"offset": 0.5617, "color": "rgba(242,221,233,0)"}, {"offset": 0.5617, "color": "#f2dde9"},
          {"offset": 0.5853, "color": "#f2dde9"}, {"offset": 0.5853, "color": "rgba(242,221,233,0)"}, {"offset": 0.6044, "color": "rgba(242,221,233,0)"}, {"offset": 0.6044, "color": "#f2dde9"},
          {"offset": 0.6281, "color": "#f2dde9"}, {"offset": 0.6281, "color": "rgba(242,221,233,0)"}, {"offset": 0.6471, "color": "rgba(242,221,233,0)"}, {"offset": 0.6471, "color": "#f2dde9"},
          {"offset": 0.6708, "color": "#f2dde9"}, {"offset": 0.6708, "color": "rgba(242,221,233,0)"}, {"offset": 0.6898, "color": "rgba(242,221,233,0)"}, {"offset": 0.6898, "color": "#f2dde9"},
          {"offset": 0.7135, "color": "#f2dde9"}, {"offset": 0.7135, "color": "rgba(242,221,233,0)"}, {"offset": 0.7325, "color": "rgba(242,221,233,0)"}, {"offset": 0.7325, "color": "#f2dde9"},
          {"offset": 0.7562, "color": "#f2dde9"}, {"offset": 0.7562, "color": "rgba(242,221,233,0)"}, {"offset": 0.7752, "color": "rgba(242,221,233,0)"}, {"offset": 0.7752, "color": "#f2dde9"},
          {"offset": 0.7989, "color": "#f2dde9"}, {"offset": 0.7989, "color": "rgba(242,221,233,0)"}, {"offset": 0.8180, "color": "rgba(242,221,233,0)"}, {"offset": 0.8180, "color": "#f2dde9"},
          {"offset": 0.8416, "color": "#f2dde9"}, {"offset": 0.8416, "color": "rgba(242,221,233,0)"}, {"offset": 0.8607, "color": "rgba(242,221,233,0)"}, {"offset": 0.8607, "color": "#f2dde9"},
          {"offset": 0.8843, "color": "#f2dde9"}, {"offset": 0.8843, "color": "rgba(242,221,233,0)"}, {"offset": 0.9034, "color": "rgba(242,221,233,0)"}, {"offset": 0.9034, "color": "#f2dde9"},
          {"offset": 0.9270, "color": "#f2dde9"}, {"offset": 0.9270, "color": "rgba(242,221,233,0)"}, {"offset": 0.9461, "color": "rgba(242,221,233,0)"}, {"offset": 0.9461, "color": "#f2dde9"},
          {"offset": 0.9697, "color": "#f2dde9"}, {"offset": 0.9697, "color": "rgba(242,221,233,0)"}, {"offset": 0.9888, "color": "rgba(242,221,233,0)"}, {"offset": 0.9888, "color": "#f2dde9"},
          {"offset": 1, "color": "#f2dde9"}
        ]}}
    },
    {
      "transform": [{"filter": "datum.method === 'm5' && datum.group === 'descendant'"}],
      "mark": {"type": "bar", "strokeWidth": 0, "cornerRadiusTopLeft": 31.7, "cornerRadiusTopRight": 31.7,
        "fill": {"gradient": "linear", "x1": 0, "y1": 0, "x2": 0, "y2": 1, "stops": [
          {"offset": 0, "color": "#f2dde9"},
          {"offset": 0.0529, "color": "#f2dde9"}, {"offset": 0.0529, "color": "rgba(242,221,233,0)"}, {"offset": 0.0864, "color": "rgba(242,221,233,0)"}, {"offset": 0.0864, "color": "#f2dde9"},
          {"offset": 0.1280, "color": "#f2dde9"}, {"offset": 0.1280, "color": "rgba(242,221,233,0)"}, {"offset": 0.1615, "color": "rgba(242,221,233,0)"}, {"offset": 0.1615, "color": "#f2dde9"},
          {"offset": 0.2030, "color": "#f2dde9"}, {"offset": 0.2030, "color": "rgba(242,221,233,0)"}, {"offset": 0.2365, "color": "rgba(242,221,233,0)"}, {"offset": 0.2365, "color": "#f2dde9"},
          {"offset": 0.2781, "color": "#f2dde9"}, {"offset": 0.2781, "color": "rgba(242,221,233,0)"}, {"offset": 0.3116, "color": "rgba(242,221,233,0)"}, {"offset": 0.3116, "color": "#f2dde9"},
          {"offset": 0.3531, "color": "#f2dde9"}, {"offset": 0.3531, "color": "rgba(242,221,233,0)"}, {"offset": 0.3866, "color": "rgba(242,221,233,0)"}, {"offset": 0.3866, "color": "#f2dde9"},
          {"offset": 0.4282, "color": "#f2dde9"}, {"offset": 0.4282, "color": "rgba(242,221,233,0)"}, {"offset": 0.4617, "color": "rgba(242,221,233,0)"}, {"offset": 0.4617, "color": "#f2dde9"},
          {"offset": 0.5032, "color": "#f2dde9"}, {"offset": 0.5032, "color": "rgba(242,221,233,0)"}, {"offset": 0.5367, "color": "rgba(242,221,233,0)"}, {"offset": 0.5367, "color": "#f2dde9"},
          {"offset": 0.5783, "color": "#f2dde9"}, {"offset": 0.5783, "color": "rgba(242,221,233,0)"}, {"offset": 0.6118, "color": "rgba(242,221,233,0)"}, {"offset": 0.6118, "color": "#f2dde9"},
          {"offset": 0.6533, "color": "#f2dde9"}, {"offset": 0.6533, "color": "rgba(242,221,233,0)"}, {"offset": 0.6868, "color": "rgba(242,221,233,0)"}, {"offset": 0.6868, "color": "#f2dde9"},
          {"offset": 0.7284, "color": "#f2dde9"}, {"offset": 0.7284, "color": "rgba(242,221,233,0)"}, {"offset": 0.7619, "color": "rgba(242,221,233,0)"}, {"offset": 0.7619, "color": "#f2dde9"},
          {"offset": 0.8034, "color": "#f2dde9"}, {"offset": 0.8034, "color": "rgba(242,221,233,0)"}, {"offset": 0.8369, "color": "rgba(242,221,233,0)"}, {"offset": 0.8369, "color": "#f2dde9"},
          {"offset": 0.8785, "color": "#f2dde9"}, {"offset": 0.8785, "color": "rgba(242,221,233,0)"}, {"offset": 0.9120, "color": "rgba(242,221,233,0)"}, {"offset": 0.9120, "color": "#f2dde9"},
          {"offset": 0.9535, "color": "#f2dde9"}, {"offset": 0.9535, "color": "rgba(242,221,233,0)"}, {"offset": 0.9870, "color": "rgba(242,221,233,0)"}, {"offset": 0.9870, "color": "#f2dde9"},
          {"offset": 1, "color": "#f2dde9"}
        ]}}
    },
    {
      "transform": [{"filter": "datum.method === 'm5' && datum.group === 'noise'"}],
      "mark": {"type": "bar", "strokeWidth": 0, "cornerRadiusTopLeft": 31.7, "cornerRadiusTopRight": 31.7,
        "fill": {"gradient": "linear", "x1": 0, "y1": 0, "x2": 0, "y2": 1, "stops": [
          {"offset": 0, "color": "#f2dde9"},
          {"offset": 0.1872, "color": "#f2dde9"}, {"offset": 0.1872, "color": "rgba(242,221,233,0)"}, {"offset": 0.2857, "color": "rgba(242,221,233,0)"}, {"offset": 0.2857, "color": "#f2dde9"},
          {"offset": 0.4078, "color": "#f2dde9"}, {"offset": 0.4078, "color": "rgba(242,221,233,0)"}, {"offset": 0.5063, "color": "rgba(242,221,233,0)"}, {"offset": 0.5063, "color": "#f2dde9"},
          {"offset": 0.6284, "color": "#f2dde9"}, {"offset": 0.6284, "color": "rgba(242,221,233,0)"}, {"offset": 0.7270, "color": "rgba(242,221,233,0)"}, {"offset": 0.7270, "color": "#f2dde9"},
          {"offset": 0.8491, "color": "#f2dde9"}, {"offset": 0.8491, "color": "rgba(242,221,233,0)"}, {"offset": 0.9476, "color": "rgba(242,221,233,0)"}, {"offset": 0.9476, "color": "#f2dde9"},
          {"offset": 1, "color": "#f2dde9"}
        ]}}
    },
    {
      "mark": {"type": "bar", "strokeWidth": 5, "fillOpacity": 0, "cornerRadiusTopLeft": 31.7, "cornerRadiusTopRight": 31.7},
      "encoding": {
        "stroke": {
          "field": "method", "type": "nominal", "legend": null,
          "scale": {"domain": ["m1", "m2", "m3", "m4", "m5"], "range": ["#56B4E9", "#0072B2", "#E69F00", "#009E73", "#CC79A7"]}
        }
      }
    },
    {
      "mark": {"type": "rule", "strokeWidth": 4.5},
      "encoding": {
        "y": {"field": "lo", "type": "quantitative"},
        "y2": {"field": "hi"},
        "color": {
          "field": "method", "type": "nominal", "legend": null,
          "scale": {"domain": ["m1", "m2", "m3", "m4", "m5"], "range": ["#0072B2", "#0072B2", "#E69F00", "#009E73", "#CC79A7"]}
        }
      }
    },
    {
      "mark": {"type": "tick", "size": 17, "thickness": 4.5, "opacity": 1},
      "encoding": {
        "y": {"field": "lo", "type": "quantitative"},
        "color": {"field": "method", "type": "nominal", "legend": null}
      }
    },
    {
      "mark": {"type": "tick", "size": 17, "thickness": 4.5, "opacity": 1},
      "encoding": {
        "y": {"field": "hi", "type": "quantitative"},
        "color": {"field": "method", "type": "nominal", "legend": null}
      }
    }
  ]
}
